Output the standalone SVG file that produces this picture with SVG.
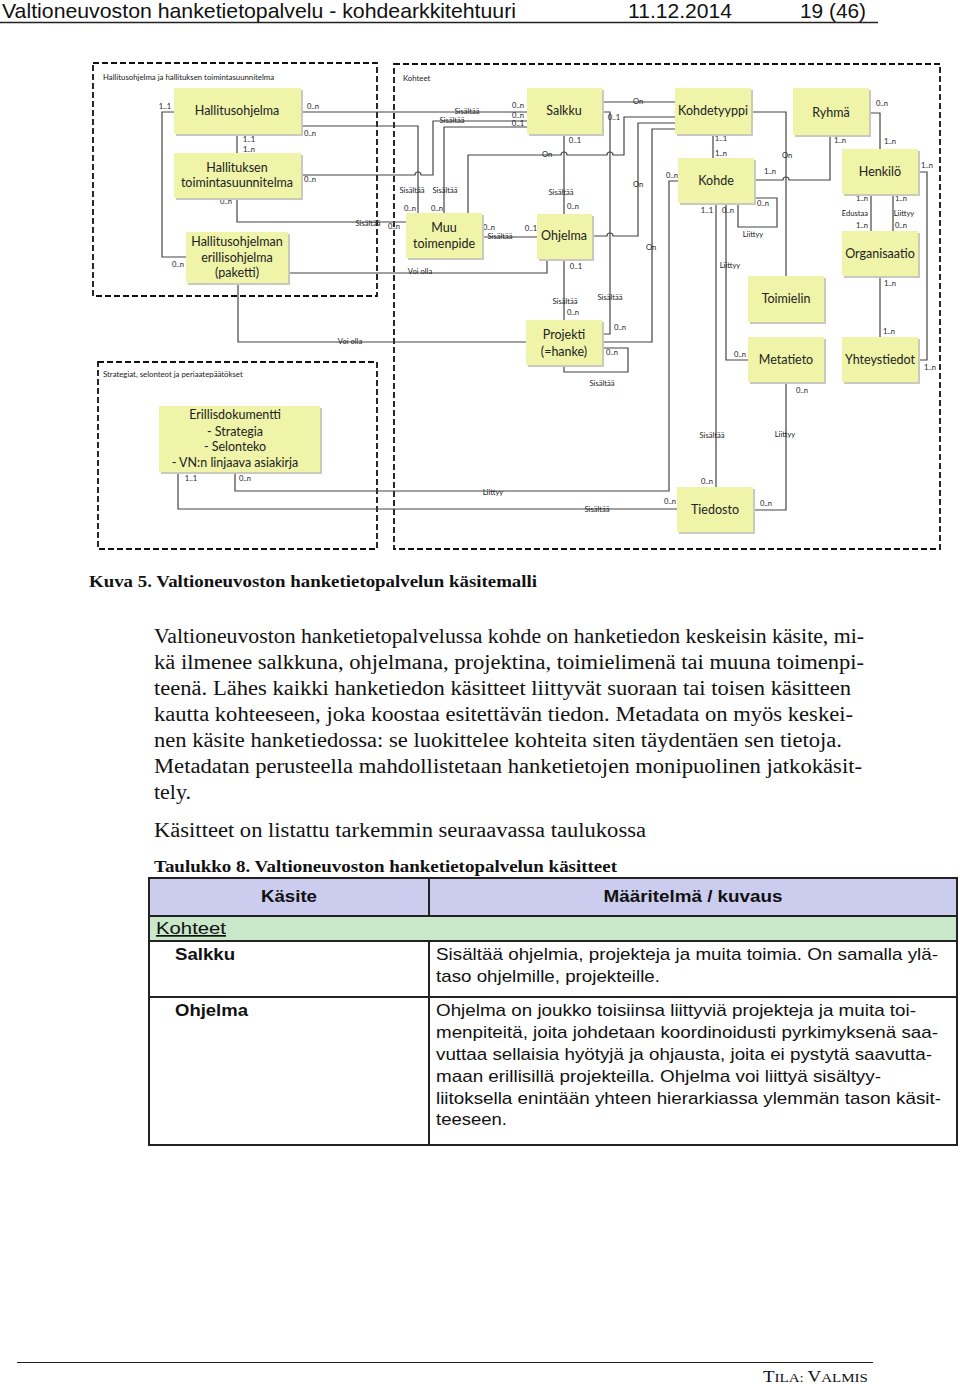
<svg xmlns="http://www.w3.org/2000/svg" width="960" height="1384" viewBox="0 0 960 1384">
<style>
.bg{fill:#ffffff}
.grp{fill:none;stroke:#111;stroke-width:1.8;stroke-dasharray:6 3}
.gt{font-family:Lato,"Open Sans",sans-serif;font-size:7.8px;fill:#222}
.sh{fill:#c9c9bd}
.nd{fill:#eff4a9}
.nt{font-family:Lato,"Open Sans",sans-serif;font-size:12.5px;fill:#222;text-anchor:middle}
.cn{fill:none;stroke:#444;stroke-width:1.2}
.lb{font-family:Lato,"Open Sans",sans-serif;font-size:7.6px;fill:#222;text-anchor:middle}
.hd{font-family:"Liberation Sans",Arial,sans-serif;font-size:21px;fill:#111}
.body{font-family:"Liberation Serif","Times New Roman",serif;font-size:20.5px;fill:#111}
.cap{font-family:"Liberation Serif","Times New Roman",serif;font-size:17px;font-weight:bold;fill:#111}
.tb{font-family:"Liberation Sans",Arial,sans-serif;font-size:17px;fill:#111}
.tbb{font-family:"Liberation Sans",Arial,sans-serif;font-size:17px;font-weight:bold;fill:#111}
.tl{stroke:#222;stroke-width:2;fill:none}
</style>
<rect class="bg" x="0" y="0" width="960" height="1384"/>

<!-- page header -->
<g id="header">
<text class="hd" x="2" y="18" textLength="514" lengthAdjust="spacingAndGlyphs">Valtioneuvoston hanketietopalvelu - kohdearkkitehtuuri</text>
<text class="hd" x="628" y="18" textLength="104" lengthAdjust="spacingAndGlyphs">11.12.2014</text>
<text class="hd" x="800" y="18" textLength="66" lengthAdjust="spacingAndGlyphs">19 (46)</text>
<line x1="0" y1="22.5" x2="878" y2="22.5" stroke="#222" stroke-width="1.5"/>
</g>

<!-- group frames -->
<g id="group-hallitusohjelma">
<rect class="grp" x="93" y="63" width="284" height="233"/>
<text class="gt" x="103" y="80">Hallitusohjelma ja hallituksen toimintasuunnitelma</text>
</g>
<g id="group-kohteet">
<rect class="grp" x="394" y="64" width="546" height="485"/>
<text class="gt" x="403" y="81">Kohteet</text>
</g>
<g id="group-strategiat">
<rect class="grp" x="98" y="362" width="279" height="187"/>
<text class="gt" x="103" y="377">Strategiat, selonteot ja periaatepäätökset</text>
</g>

<!-- connectors -->
<g id="connectors">
<path class="cn" d="M174,112 H162 V257 H186"/>
<path class="cn" d="M237,134 V153"/>
<path class="cn" d="M301,112 H527"/>
<path class="cn" d="M301,126 H418 V213"/>
<path class="cn" d="M301,175 H415 a3,3 0 0 1 6,0 H433 V121 H527"/>
<path class="cn" d="M237,198 V222 H406"/>
<path class="cn" d="M288,273 H547 V259"/>
<path class="cn" d="M238,283 V342 H526"/>
<path class="cn" d="M444,213 V127 H527"/>
<path class="cn" d="M482,237 H537"/>
<path class="cn" d="M468,213 V155 H561 a3,3 0 0 1 6,0 H607 a3,3 0 0 1 6,0 H624 V117 H675"/>
<path class="cn" d="M602,102 H675"/>
<path class="cn" d="M564,134 V214"/>
<path class="cn" d="M602,112 H610 V334 H602"/>
<path class="cn" d="M592,236 H607 a3,3 0 0 1 6,0 H638 V123 H675"/>
<path class="cn" d="M564,259 V320"/>
<path class="cn" d="M602,342 H652 V129 H675"/>
<path class="cn" d="M602,348 H628 V372 H564 V365"/>
<path class="cn" d="M235,472 V491 H669 V181 H678"/>
<path class="cn" d="M178,472 V509 H677"/>
<path class="cn" d="M713,134 V158"/>
<path class="cn" d="M751,112 H786 V276"/>
<path class="cn" d="M754,180 H783 a3,3 0 0 1 6,0 H830 V135"/>
<path class="cn" d="M738,203 V227 H777 V198 H754"/>
<path class="cn" d="M716,203 V487"/>
<path class="cn" d="M726,203 V360 H748"/>
<path class="cn" d="M786,382 V510 H753"/>
<path class="cn" d="M869,113 H880 V149"/>
<path class="cn" d="M871,194 V231"/>
<path class="cn" d="M893,194 V231"/>
<path class="cn" d="M918,172 H927 V360 H918"/>
<path class="cn" d="M880,276 V337"/>

<!-- connector labels -->
<text class="lb" x="165" y="109">1..1</text>
<text class="lb" x="313" y="109">0..n</text>
<text class="lb" x="310" y="136">0..n</text>
<text class="lb" x="249" y="142">1..1</text>
<text class="lb" x="249" y="152">1..n</text>
<text class="lb" x="310" y="182">0..n</text>
<text class="lb" x="226" y="204">0..n</text>
<text class="lb" x="178" y="267">0..n</text>
<text class="lb" x="368" y="226">Sisältää</text>
<text class="lb" x="394" y="229">0..n</text>
<text class="lb" x="467" y="114">Sisältää</text>
<text class="lb" x="452" y="123">Sisältää</text>
<text class="lb" x="518" y="108">0..n</text>
<text class="lb" x="518" y="118">0..n</text>
<text class="lb" x="518" y="126">0..1</text>
<text class="lb" x="638" y="104">On</text>
<text class="lb" x="614" y="120">0..1</text>
<text class="lb" x="575" y="143">0..1</text>
<text class="lb" x="547" y="157">On</text>
<text class="lb" x="412" y="193">Sisältää</text>
<text class="lb" x="410" y="211">0..n</text>
<text class="lb" x="445" y="193">Sisältää</text>
<text class="lb" x="437" y="211">0..n</text>
<text class="lb" x="489" y="230">0..n</text>
<text class="lb" x="500" y="239">Sisältää</text>
<text class="lb" x="531" y="231">0..1</text>
<text class="lb" x="638" y="187">On</text>
<text class="lb" x="651" y="250">On</text>
<text class="lb" x="561" y="195">Sisältää</text>
<text class="lb" x="573" y="209">0..n</text>
<text class="lb" x="576" y="269">0..1</text>
<text class="lb" x="420" y="274">Voi olla</text>
<text class="lb" x="565" y="304">Sisältää</text>
<text class="lb" x="573" y="315">0..n</text>
<text class="lb" x="610" y="300">Sisältää</text>
<text class="lb" x="620" y="330">0..n</text>
<text class="lb" x="612" y="355">0..n</text>
<text class="lb" x="602" y="386">Sisältää</text>
<text class="lb" x="350" y="344">Voi olla</text>
<text class="lb" x="493" y="495">Liittyy</text>
<text class="lb" x="597" y="512">Sisältää</text>
<text class="lb" x="670" y="504">0..n</text>
<text class="lb" x="191" y="481">1..1</text>
<text class="lb" x="245" y="481">0..n</text>
<text class="lb" x="721" y="141">1..1</text>
<text class="lb" x="721" y="156">1..n</text>
<text class="lb" x="787" y="158">On</text>
<text class="lb" x="672" y="178">0..n</text>
<text class="lb" x="770" y="174">1..n</text>
<text class="lb" x="840" y="143">1..n</text>
<text class="lb" x="882" y="106">0..n</text>
<text class="lb" x="890" y="144">1..n</text>
<text class="lb" x="927" y="168">1..n</text>
<text class="lb" x="763" y="206">0..n</text>
<text class="lb" x="753" y="237">Liittyy</text>
<text class="lb" x="707" y="213">1..1</text>
<text class="lb" x="728" y="213">0..n</text>
<text class="lb" x="730" y="268">Liittyy</text>
<text class="lb" x="862" y="201">1..n</text>
<text class="lb" x="855" y="216">Edustaa</text>
<text class="lb" x="862" y="228">1..n</text>
<text class="lb" x="901" y="201">1..n</text>
<text class="lb" x="904" y="216">Liittyy</text>
<text class="lb" x="901" y="228">0..n</text>
<text class="lb" x="890" y="286">1..n</text>
<text class="lb" x="889" y="334">1..n</text>
<text class="lb" x="930" y="370">1..n</text>
<text class="lb" x="740" y="357">0..n</text>
<text class="lb" x="802" y="393">0..n</text>
<text class="lb" x="785" y="437">Liittyy</text>
<text class="lb" x="712" y="438">Sisältää</text>
<text class="lb" x="707" y="484">0..n</text>
<text class="lb" x="766" y="506">0..n</text>
</g>

<!-- nodes -->
<g id="n-hallitusohjelma">
<rect class="sh" x="176" y="90" width="127" height="46"/>
<rect class="nd" x="174" y="88" width="127" height="46"/>
<text class="nt" x="237" y="115">Hallitusohjelma</text>
</g>
<g id="n-hallituksen-toimintasuunnitelma">
<rect class="sh" x="176" y="155" width="127" height="45"/>
<rect class="nd" x="174" y="153" width="127" height="45"/>
<text class="nt" x="237" y="172">Hallituksen</text>
<text class="nt" x="237" y="187">toimintasuunnitelma</text>
</g>
<g id="n-erillisohjelma">
<rect class="sh" x="188" y="234" width="102" height="51"/>
<rect class="nd" x="186" y="232" width="102" height="51"/>
<text class="nt" x="237" y="246">Hallitusohjelman</text>
<text class="nt" x="237" y="262">erillisohjelma</text>
<text class="nt" x="237" y="277">(paketti)</text>
</g>
<g id="n-salkku">
<rect class="sh" x="529" y="90" width="75" height="46"/>
<rect class="nd" x="527" y="88" width="75" height="46"/>
<text class="nt" x="564" y="115">Salkku</text>
</g>
<g id="n-muu-toimenpide">
<rect class="sh" x="408" y="215" width="76" height="45"/>
<rect class="nd" x="406" y="213" width="76" height="45"/>
<text class="nt" x="444" y="232">Muu</text>
<text class="nt" x="444" y="248">toimenpide</text>
</g>
<g id="n-ohjelma">
<rect class="sh" x="539" y="216" width="55" height="45"/>
<rect class="nd" x="537" y="214" width="55" height="45"/>
<text class="nt" x="564" y="240">Ohjelma</text>
</g>
<g id="n-projekti">
<rect class="sh" x="528" y="322" width="76" height="45"/>
<rect class="nd" x="526" y="320" width="76" height="45"/>
<text class="nt" x="564" y="339">Projekti</text>
<text class="nt" x="564" y="356">(=hanke)</text>
</g>
<g id="n-kohdetyyppi">
<rect class="sh" x="677" y="90" width="76" height="46"/>
<rect class="nd" x="675" y="88" width="76" height="46"/>
<text class="nt" x="713" y="115">Kohdetyyppi</text>
</g>
<g id="n-ryhma">
<rect class="sh" x="795" y="90" width="76" height="47"/>
<rect class="nd" x="793" y="88" width="76" height="47"/>
<text class="nt" x="831" y="117">Ryhmä</text>
</g>
<g id="n-kohde">
<rect class="sh" x="680" y="160" width="76" height="45"/>
<rect class="nd" x="678" y="158" width="76" height="45"/>
<text class="nt" x="716" y="185">Kohde</text>
</g>
<g id="n-henkilo">
<rect class="sh" x="844" y="151" width="76" height="45"/>
<rect class="nd" x="842" y="149" width="76" height="45"/>
<text class="nt" x="880" y="176">Henkilö</text>
</g>
<g id="n-organisaatio">
<rect class="sh" x="844" y="233" width="76" height="45"/>
<rect class="nd" x="842" y="231" width="76" height="45"/>
<text class="nt" x="880" y="258">Organisaatio</text>
</g>
<g id="n-toimielin">
<rect class="sh" x="750" y="278" width="76" height="46"/>
<rect class="nd" x="748" y="276" width="76" height="46"/>
<text class="nt" x="786" y="303">Toimielin</text>
</g>
<g id="n-metatieto">
<rect class="sh" x="750" y="339" width="76" height="45"/>
<rect class="nd" x="748" y="337" width="76" height="45"/>
<text class="nt" x="786" y="364">Metatieto</text>
</g>
<g id="n-yhteystiedot">
<rect class="sh" x="844" y="339" width="76" height="45"/>
<rect class="nd" x="842" y="337" width="76" height="45"/>
<text class="nt" x="880" y="364">Yhteystiedot</text>
</g>
<g id="n-tiedosto">
<rect class="sh" x="679" y="489" width="76" height="45"/>
<rect class="nd" x="677" y="487" width="76" height="45"/>
<text class="nt" x="715" y="514">Tiedosto</text>
</g>
<g id="n-erillisdokumentti">
<rect class="sh" x="161" y="408" width="161" height="66"/>
<rect class="nd" x="159" y="406" width="161" height="66"/>
<text class="nt" x="235" y="419">Erillisdokumentti</text>
<text class="nt" x="235" y="436">- Strategia</text>
<text class="nt" x="235" y="451">- Selonteko</text>
<text class="nt" x="235" y="467">- VN:n linjaava asiakirja</text>
</g>

<!-- caption and body -->
<g id="caption">
<text class="cap" x="89" y="587" textLength="448" lengthAdjust="spacingAndGlyphs">Kuva 5. Valtioneuvoston hanketietopalvelun käsitemalli</text>
</g>
<g id="body-text">
<text class="body" x="154" y="643" textLength="710" lengthAdjust="spacingAndGlyphs">Valtioneuvoston hanketietopalvelussa kohde on hanketiedon keskeisin käsite, mi-</text>
<text class="body" x="154" y="669" textLength="710" lengthAdjust="spacingAndGlyphs">kä ilmenee salkkuna, ohjelmana, projektina, toimielimenä tai muuna toimenpi-</text>
<text class="body" x="154" y="695" textLength="697" lengthAdjust="spacingAndGlyphs">teenä. Lähes kaikki hanketiedon käsitteet liittyvät suoraan tai toisen käsitteen</text>
<text class="body" x="154" y="721" textLength="699" lengthAdjust="spacingAndGlyphs">kautta kohteeseen, joka koostaa esitettävän tiedon. Metadata on myös keskei-</text>
<text class="body" x="154" y="747" textLength="688" lengthAdjust="spacingAndGlyphs">nen käsite hanketiedossa: se luokittelee kohteita siten täydentäen sen tietoja.</text>
<text class="body" x="154" y="773" textLength="708" lengthAdjust="spacingAndGlyphs">Metadatan perusteella mahdollistetaan hanketietojen monipuolinen jatkokäsit-</text>
<text class="body" x="154" y="799" textLength="37" lengthAdjust="spacingAndGlyphs">tely.</text>
<text class="body" x="154" y="837" textLength="492" lengthAdjust="spacingAndGlyphs">Käsitteet on listattu tarkemmin seuraavassa taulukossa</text>
<text class="cap" x="154" y="872" textLength="463" lengthAdjust="spacingAndGlyphs">Taulukko 8. Valtioneuvoston hanketietopalvelun käsitteet</text>
</g>

<!-- table -->
<g id="table">
<rect x="149" y="878" width="808" height="38" fill="#ccccee"/>
<rect x="149" y="916" width="808" height="25" fill="#c9e7c9"/>
<rect class="tl" x="149" y="878" width="808" height="267"/>
<line class="tl" x1="149" y1="916" x2="957" y2="916"/>
<line class="tl" x1="149" y1="941" x2="957" y2="941"/>
<line class="tl" x1="149" y1="997" x2="957" y2="997"/>
<line class="tl" x1="429" y1="878" x2="429" y2="916"/>
<line class="tl" x1="429" y1="941" x2="429" y2="1145"/>
<text class="tbb" x="289" y="902" text-anchor="middle" textLength="56" lengthAdjust="spacingAndGlyphs">Käsite</text>
<text class="tbb" x="693" y="902" text-anchor="middle" textLength="179" lengthAdjust="spacingAndGlyphs">Määritelmä / kuvaus</text>
<text class="tb" x="156" y="934" textLength="70" lengthAdjust="spacingAndGlyphs" text-decoration="underline">Kohteet</text>
<text class="tbb" x="175" y="960" textLength="60" lengthAdjust="spacingAndGlyphs">Salkku</text>
<text class="tbb" x="175" y="1016" textLength="73" lengthAdjust="spacingAndGlyphs">Ohjelma</text>
<text class="tb" x="436" y="960" textLength="502" lengthAdjust="spacingAndGlyphs">Sisältää ohjelmia, projekteja ja muita toimia. On samalla ylä-</text>
<text class="tb" x="436" y="982" textLength="224" lengthAdjust="spacingAndGlyphs">taso ohjelmille, projekteille.</text>
<text class="tb" x="436" y="1016" textLength="480" lengthAdjust="spacingAndGlyphs">Ohjelma on joukko toisiinsa liittyviä projekteja ja muita toi-</text>
<text class="tb" x="436" y="1038" textLength="502" lengthAdjust="spacingAndGlyphs">menpiteitä, joita johdetaan koordinoidusti pyrkimyksenä saa-</text>
<text class="tb" x="436" y="1060" textLength="496" lengthAdjust="spacingAndGlyphs">vuttaa sellaisia hyötyjä ja ohjausta, joita ei pystytä saavutta-</text>
<text class="tb" x="436" y="1082" textLength="445" lengthAdjust="spacingAndGlyphs">maan erillisillä projekteilla. Ohjelma voi liittyä sisältyy-</text>
<text class="tb" x="436" y="1104" textLength="505" lengthAdjust="spacingAndGlyphs">liitoksella enintään yhteen hierarkiassa ylemmän tason käsit-</text>
<text class="tb" x="436" y="1125" textLength="71" lengthAdjust="spacingAndGlyphs">teeseen.</text>
</g>

<!-- footer -->
<g id="footer">
<line x1="17" y1="1362.5" x2="873" y2="1362.5" stroke="#222" stroke-width="1"/>
<text x="763" y="1382" font-family="'Liberation Serif','Times New Roman',serif" fill="#111" font-size="17" textLength="105" lengthAdjust="spacingAndGlyphs">T<tspan font-size="13.5">ILA: </tspan>V<tspan font-size="13.5">ALMIS</tspan></text>
</g>
</svg>
